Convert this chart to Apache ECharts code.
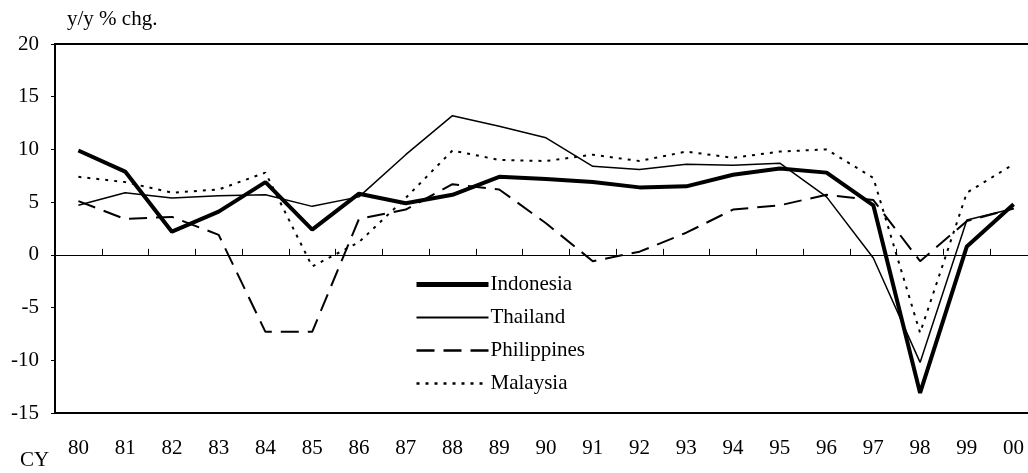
<!doctype html>
<html lang="en">
<head>
    <meta charset="UTF-8">
    <title>ASEAN growth</title>
    <style>
        html, body { margin: 0; padding: 0; background: #fff; overflow: hidden; }
    </style>
</head>
<body>
    <!-- a bit wider than the window: the right edge of the plot is cut off in the original -->
    <div id="main" style="width: 1040px;height:473px;"></div>
    <script src="https://cdn.jsdelivr.net/npm/echarts@6/dist/echarts.min.js"></script>
    <script>
        var years = ['80','81','82','83','84','85','86','87','88','89','90','91','92','93','94','95','96','97','98','99','00'];
        var indonesia   = [9.9, 7.9, 2.2, 4.1, 6.9, 2.4, 5.8, 4.9, 5.7, 7.4, 7.2, 6.9, 6.4, 6.5, 7.6, 8.2, 7.8, 4.7, -13.1, 0.8, 4.8];
        var thailand    = [4.7, 5.9, 5.4, 5.6, 5.7, 4.6, 5.5, 9.5, 13.2, 12.2, 11.1, 8.4, 8.1, 8.6, 8.5, 8.7, 5.5, -0.3, -10.2, 3.3, 4.4];
        var philippines = [5.1, 3.4, 3.6, 1.9, -7.3, -7.3, 3.4, 4.3, 6.7, 6.2, 3.0, -0.6, 0.3, 2.1, 4.3, 4.7, 5.7, 5.2, -0.6, 3.2, 4.4];
        var malaysia    = [7.4, 6.9, 5.9, 6.2, 7.8, -1.1, 1.2, 5.4, 9.9, 9.0, 8.9, 9.5, 8.9, 9.8, 9.2, 9.8, 10.0, 7.3, -7.4, 5.9, 8.6];
        var yTicks = [-15, 20, 5]; // min, max, interval

        var font = '"Liberation Serif", "Times New Roman", serif';
        var myChart = echarts.init(document.getElementById('main'));

        // line looks, shared by series and legend
        var looks = {
            Indonesia:   { width: 4, type: 'solid' },
            Thailand:    { width: 1.5, type: 'solid' },
            Philippines: { width: 2, type: [18, 9] },
            Malaysia:    { width: 2, type: [3, 6] }
        };

        function mkLine(name, data) {
            return {
                name: name,
                type: 'line',
                data: data,
                symbol: 'none',
                xAxisIndex: 0,
                lineStyle: { color: '#000', width: looks[name].width, type: looks[name].type },
                itemStyle: { color: '#000' },
                z: 3
            };
        }

        function legendItem(name) {
            return {
                name: name,
                lineStyle: { color: '#000', width: looks[name].width + (name === 'Indonesia' ? 1 : 0.5), type: looks[name].type }
            };
        }

        var option = {
            animation: false,
            grid: {
                left: 55, top: 44, right: 3, bottom: 60,
                show: true,
                borderColor: '#000',
                borderWidth: 2
            },
            graphic: [
                { type: 'text', left: 67, top: 9, style: { text: 'y/y % chg.', font: '21px ' + font, fill: '#000' } },
                { type: 'text', left: 20, top: 450, style: { text: 'CY', font: '21px ' + font, fill: '#000' } }
            ],
            legend: {
                orient: 'vertical',
                left: 409,
                top: 269,
                itemWidth: 72,
                itemHeight: 14,
                itemGap: 12,
                itemStyle: { opacity: 0 },
                textStyle: { fontFamily: font, fontSize: 21, color: '#000', padding: [0, 0, 0, -3] },
                data: ['Indonesia', 'Thailand', 'Philippines', 'Malaysia'].map(legendItem)
            },
            xAxis: [{
                type: 'category',
                data: years,
                position: 'bottom',
                axisLine: { show: false, onZero: false },
                axisTick: { show: false },
                axisLabel: { fontFamily: font, fontSize: 21, color: '#000', margin: 25 }
            }, {
                type: 'category',
                data: years,
                position: 'bottom',
                axisLine: { onZero: true, lineStyle: { color: '#000', width: 1 } },
                axisTick: { show: true, inside: true, length: 6, lineStyle: { color: '#000' } },
                axisLabel: { show: false }
            }],
            yAxis: {
                type: 'value',
                min: yTicks[0],
                max: yTicks[1],
                interval: yTicks[2],
                splitLine: { show: false },
                axisLine: { show: true, lineStyle: { color: '#000', width: 2 } },
                axisTick: { show: true, length: 4, lineStyle: { color: '#000' } },
                axisLabel: { fontFamily: font, fontSize: 21, color: '#000', margin: 16 }
            },
            series: [
                mkLine('Indonesia', indonesia),
                mkLine('Thailand', thailand),
                mkLine('Philippines', philippines),
                mkLine('Malaysia', malaysia)
            ]
        };

        myChart.setOption(option);
    </script>
</body>
</html>
